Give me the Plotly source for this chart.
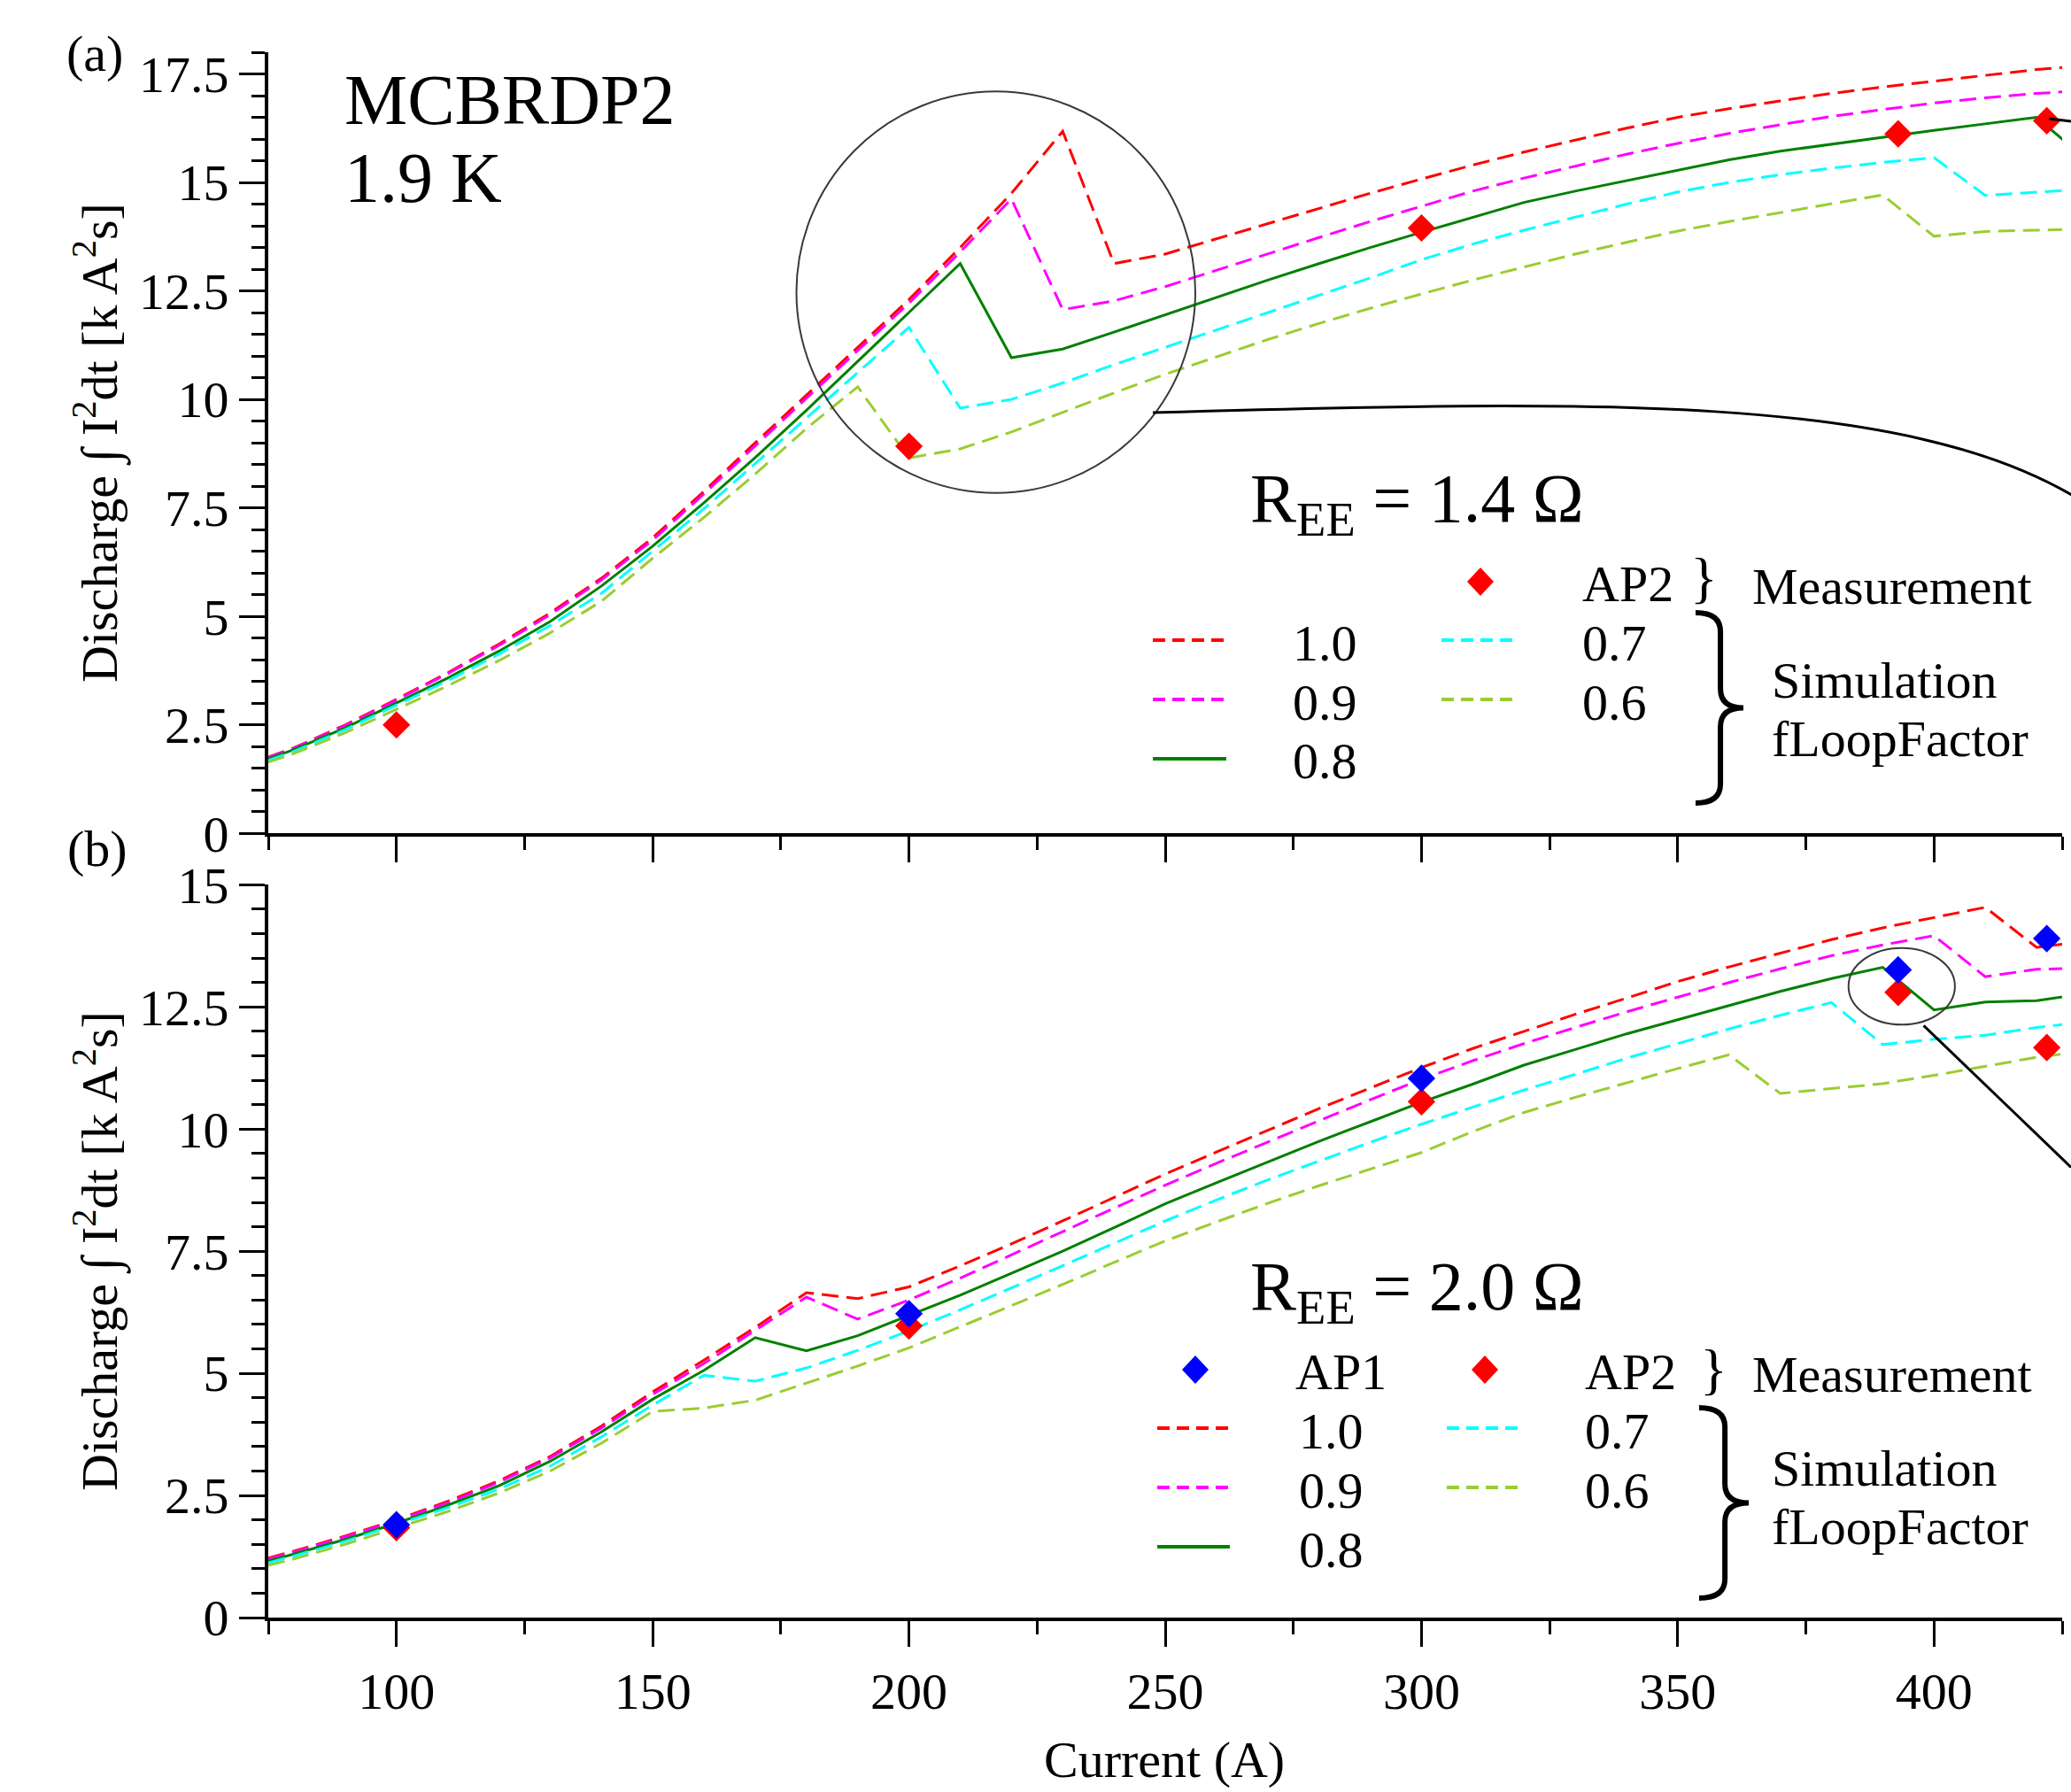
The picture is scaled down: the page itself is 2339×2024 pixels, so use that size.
import plotly.graph_objects as go

# ---------------- data ----------------
current = [75, 80, 90, 100, 110, 120, 130, 140, 150, 160, 170, 180, 190, 200, 210, 220, 230, 240,
           250, 260, 270, 280, 290, 300, 310, 320, 330, 340, 350, 360, 370, 380, 390, 400, 410, 420, 430]

# (a) R_EE = 1.4 Ohm, simulation for fLoopFactor
a_f10 = [1.76, 1.97, 2.50, 3.09, 3.70, 4.36, 5.08, 5.88, 6.81, 7.88, 9.00, 10.10, 11.20, 12.30, 13.50, 14.75, 16.18, 13.13,
         13.35, 13.70, 14.05, 14.40, 14.75, 15.08, 15.40, 15.70, 15.98, 16.25, 16.50, 16.70, 16.88, 17.05, 17.20, 17.33, 17.47, 17.60, 17.70]
a_f09 = [1.75, 1.96, 2.48, 3.07, 3.68, 4.33, 5.04, 5.84, 6.76, 7.82, 8.93, 10.03, 11.12, 12.22, 13.40, 14.62, 12.07, 12.27,
         12.60, 12.98, 13.36, 13.73, 14.10, 14.45, 14.80, 15.10, 15.38, 15.65, 15.90, 16.13, 16.33, 16.52, 16.68, 16.83, 16.95, 17.05, 17.12]
a_f08 = [1.72, 1.93, 2.43, 3.00, 3.58, 4.20, 4.88, 5.70, 6.62, 7.62, 8.66, 9.75, 10.87, 12.00, 13.13, 10.96, 11.16, 11.55,
         11.95, 12.35, 12.75, 13.13, 13.50, 13.85, 14.20, 14.54, 14.80, 15.04, 15.28, 15.52, 15.72, 15.88, 16.05, 16.20, 16.35, 16.50, 15.50]
a_f07 = [1.68, 1.89, 2.39, 2.95, 3.52, 4.13, 4.79, 5.53, 6.50, 7.48, 8.52, 9.58, 10.62, 11.66, 9.80, 10.00, 10.38, 10.80,
         11.20, 11.60, 12.00, 12.40, 12.80, 13.22, 13.58, 13.90, 14.20, 14.50, 14.78, 15.00, 15.18, 15.33, 15.46, 15.57, 14.70, 14.78, 14.85]
a_f06 = [1.64, 1.84, 2.32, 2.86, 3.40, 3.98, 4.62, 5.35, 6.34, 7.28, 8.28, 9.33, 10.29, 8.65, 8.86, 9.25, 9.70, 10.15,
         10.58, 10.98, 11.38, 11.75, 12.10, 12.43, 12.75, 13.05, 13.35, 13.62, 13.88, 14.10, 14.30, 14.50, 14.71, 13.76, 13.87, 13.90, 13.93]

# (b) R_EE = 2.0 Ohm
b_f10 = [1.22, 1.36, 1.67, 2.00, 2.38, 2.80, 3.30, 3.92, 4.62, 5.27, 5.94, 6.65, 6.53, 6.77, 7.20, 7.65, 8.12, 8.60,
         9.08, 9.53, 9.98, 10.42, 10.84, 11.26, 11.65, 12.00, 12.35, 12.68, 13.02, 13.32, 13.60, 13.88, 14.12, 14.33, 14.54, 13.72, 13.85]
b_f09 = [1.20, 1.34, 1.65, 1.98, 2.35, 2.77, 3.27, 3.88, 4.57, 5.20, 5.88, 6.56, 6.11, 6.50, 6.95, 7.42, 7.90, 8.38,
         8.85, 9.30, 9.74, 10.17, 10.60, 11.02, 11.40, 11.75, 12.08, 12.40, 12.70, 13.00, 13.28, 13.55, 13.77, 13.96, 13.12, 13.27, 13.30]
b_f08 = [1.16, 1.30, 1.60, 1.93, 2.30, 2.70, 3.20, 3.80, 4.47, 5.06, 5.73, 5.46, 5.77, 6.18, 6.60, 7.05, 7.50, 7.98,
         8.47, 8.90, 9.33, 9.75, 10.15, 10.55, 10.92, 11.31, 11.63, 11.95, 12.24, 12.53, 12.82, 13.08, 13.31, 12.44, 12.60, 12.63, 12.78]
b_f07 = [1.12, 1.26, 1.56, 1.90, 2.25, 2.63, 3.10, 3.70, 4.35, 4.96, 4.84, 5.11, 5.47, 5.87, 6.30, 6.75, 7.20, 7.66,
         8.12, 8.55, 8.96, 9.35, 9.73, 10.10, 10.45, 10.80, 11.12, 11.45, 11.75, 12.05, 12.33, 12.59, 11.73, 11.84, 11.92, 12.08, 12.20]
b_f06 = [1.07, 1.20, 1.50, 1.83, 2.17, 2.55, 3.00, 3.57, 4.22, 4.29, 4.45, 4.80, 5.15, 5.52, 5.95, 6.38, 6.82, 7.27,
         7.71, 8.10, 8.48, 8.84, 9.18, 9.52, 9.95, 10.34, 10.65, 10.95, 11.24, 11.52, 10.73, 10.83, 10.93, 11.10, 11.28, 11.47, 11.60]

# measurements
meas_current = [100, 200, 300, 393, 422]
a_ap2 = [2.50, 8.92, 13.95, 16.12, 16.42]
b_ap1 = [1.90, 6.22, 11.04, 13.26, 13.90]
b_ap2 = [1.84, 5.97, 10.56, 12.80, 11.67]

x_ticks = [100, 150, 200, 250, 300, 350, 400]
ya_ticks = [0, 2.5, 5, 7.5, 10, 12.5, 15, 17.5]
yb_ticks = [0, 2.5, 5, 7.5, 10, 12.5, 15]
loop_labels = ["1.0", "0.9", "0.8", "0.7", "0.6"]

# ---------------- geometry / styles ----------------
W, H = 2339, 2024
ML, MR, MT, MB = 303, 10, 59, 197
PW = W - ML - MR
PH = H - MT - MB
FONT = "Liberation Serif"

def P(X, Y):
    return (X - ML) / PW, (MT + PH - Y) / PH

def fmt(v):
    return ("%g" % v)

styles = {
    "1.0": dict(color="#FF0000", dash="19px,9px"),
    "0.9": dict(color="#FF00FF", dash="19px,9px"),
    "0.8": dict(color="#008000", dash="solid"),
    "0.7": dict(color="#00FFFF", dash="19px,9px"),
    "0.6": dict(color="#9ACD32", dash="19px,9px"),
}

fig = go.Figure()

sets = [
    ("x2", "y2", [a_f10, a_f09, a_f08, a_f07, a_f06]),
    ("x", "y", [b_f10, b_f09, b_f08, b_f07, b_f06]),
]
for xa, ya, series in sets:
    for lab, ys in zip(loop_labels, series):
        st = styles[lab]
        fig.add_trace(go.Scatter(x=current, y=ys, mode="lines", xaxis=xa, yaxis=ya,
                                 line=dict(color=st["color"], width=3, dash=st["dash"]),
                                 showlegend=False, name=lab))

mk = dict(symbol="diamond", size=24, line=dict(width=0))
fig.add_trace(go.Scatter(x=meas_current, y=a_ap2, mode="markers", xaxis="x2", yaxis="y2",
                         marker=dict(color="#FF0000", **mk), showlegend=False, name="AP2"))
fig.add_trace(go.Scatter(x=meas_current, y=b_ap2, mode="markers", xaxis="x", yaxis="y",
                         marker=dict(color="#FF0000", **mk), showlegend=False, name="AP2"))
fig.add_trace(go.Scatter(x=meas_current, y=b_ap1, mode="markers", xaxis="x", yaxis="y",
                         marker=dict(color="#0000FF", **mk), showlegend=False, name="AP1"))

tickfont = dict(family=FONT, size=58, color="black")
axis_common = dict(showline=True, linecolor="black", linewidth=4, ticks="outside", ticklen=29,
                   tickwidth=3, tickcolor="black", showgrid=False, zeroline=False, tickfont=tickfont,
                   mirror=False)

top_dom = [P(0, 941.3)[1], 1.0]
bot_dom = [0.0, P(0, 999.4)[1]]

minor_x = dict(tickmode="linear", tick0=75, dtick=25, ticks="outside", ticklen=15,
               tickwidth=3, tickcolor="black", showgrid=False)
minor_y = dict(tickmode="linear", tick0=0, dtick=0.5, ticks="outside", ticklen=15,
               tickwidth=3, tickcolor="black", showgrid=False)

fig.update_layout(
    width=W, height=H,
    margin=dict(l=ML, r=MR, t=MT, b=MB, pad=0),
    paper_bgcolor="white", plot_bgcolor="white",
    showlegend=False,
    xaxis=dict(domain=[0, 1], anchor="y", range=[75, 425], tickmode="array", tickvals=x_ticks,
               ticktext=[fmt(v) for v in x_ticks], minor=minor_x, **axis_common),
    yaxis=dict(domain=bot_dom, anchor="x", range=[0, 15], tickmode="array", tickvals=yb_ticks,
               ticktext=[fmt(v) for v in yb_ticks], minor=minor_y, **axis_common),
    xaxis2=dict(domain=[0, 1], anchor="y2", range=[75, 425], tickmode="array", tickvals=x_ticks,
                showticklabels=False, minor=minor_x, **axis_common),
    yaxis2=dict(domain=top_dom, anchor="x2", range=[0, 18], tickmode="array", tickvals=ya_ticks,
                ticktext=[fmt(v) for v in ya_ticks], minor=minor_y, **axis_common),
)

annotations = []
shapes = []

def text(X, Y, s, size=58, anchor="left", angle=0):
    x, y = P(X, Y)
    annotations.append(dict(x=x, y=y, xref="paper", yref="paper", text=s, showarrow=False,
                            xanchor=anchor, yanchor="middle", textangle=angle,
                            font=dict(family=FONT, size=size, color="black")))

def seg(X0, Y0, X1, Y1, color, width=3, dash="solid"):
    x0, y0 = P(X0, Y0)
    x1, y1 = P(X1, Y1)
    shapes.append(dict(type="line", xref="paper", yref="paper", x0=x0, y0=y0, x1=x1, y1=y1,
                       line=dict(color=color, width=width, dash=dash)))

def diamond(cx, cy, color, hw=15, hh=16):
    pts = [(cx, cy - hh), (cx + hw, cy), (cx, cy + hh), (cx - hw, cy)]
    pp = [P(a, b) for a, b in pts]
    path = "M %f,%f L %f,%f L %f,%f L %f,%f Z" % (pp[0] + pp[1] + pp[2] + pp[3])
    shapes.append(dict(type="path", xref="paper", yref="paper", path=path,
                       fillcolor=color, line=dict(color=color, width=0)))

def brace(xl, yt, yb, w):
    xs = xl + 0.52 * w
    xt = xl + w
    ym = (yt + yb) / 2
    c = 0.10 * (yb - yt)
    pts = [
        ("M", [(xl, yt)]),
        ("Q", [(xs, yt), (xs, yt + c)]),
        ("L", [(xs, ym - c)]),
        ("Q", [(xs, ym), (xt, ym)]),
        ("Q", [(xs, ym), (xs, ym + c)]),
        ("L", [(xs, yb - c)]),
        ("Q", [(xs, yb), (xl, yb)]),
    ]
    parts = []
    for cmd, ps in pts:
        parts.append(cmd + " " + " ".join("%f,%f" % P(a, b) for a, b in ps))
    shapes.append(dict(type="path", xref="paper", yref="paper", path=" ".join(parts),
                       line=dict(color="black", width=6)))

def ellipse(X0, Y0, X1, Y1, color="#3a3a3a", width=2):
    x0, y0 = P(X0, Y0)
    x1, y1 = P(X1, Y1)
    shapes.append(dict(type="circle", xref="paper", yref="paper", x0=x0, y0=y1, x1=x1, y1=y0,
                       line=dict(color=color, width=width)))

def cubic(p0, p1, p2, p3, color="black", width=3):
    pp = [P(*p) for p in (p0, p1, p2, p3)]
    path = "M %f,%f C %f,%f %f,%f %f,%f" % (pp[0] + pp[1] + pp[2] + pp[3])
    shapes.append(dict(type="path", xref="paper", yref="paper", path=path,
                       line=dict(color=color, width=width)))

# panel labels and titles
text(107, 60, "(a)", 58, "center")
text(110, 958, "(b)", 58, "center")
text(387, 113, "MCBRDP2", 80)
text(387, 201, "1.9 K", 80)
ytitle = "Discharge ∫ I<sup>2</sup>dt [k A<sup>2</sup>s]"
text(110, 500, ytitle, 58, "center", -90)
text(110, 1413, ytitle, 58, "center", -90)
text(1315, 1988, "Current (A)", 58, "center")

# zoom circles and connectors
ellipse(899.5, 103.3, 1350, 556.8)
cubic((1302, 466), (1800, 452), (2150, 445), (2345, 562))
seg(2314, 134, 2339, 137, "black", 3)
ellipse(2087.7, 1070.7, 2207.9, 1157.3)
seg(2172.6, 1158.3, 2339, 1318.3, "black", 3)

# ---- legend blocks ----
def legend_block(y_title, ree, meas_rows, y_meas, sim_y, brace_box, small_brace, sim_text_y, cols):
    text(1410, y_title, "R<sub>EE</sub> = " + ree, 78)
    for (cx, color, lab, tx) in meas_rows:
        diamond(cx, y_meas, color)
        text(tx, y_meas + 2, lab, 58)
    text(small_brace[0], small_brace[1], "}", 64, "center")
    text(1977, y_meas + 5, "Measurement", 58)
    (lx0, lx1, tx_left), (rx0, rx1, tx_right) = cols
    for i, lab in enumerate(["1.0", "0.9", "0.8"]):
        st = styles[lab]
        yy = sim_y[i]
        seg(lx0, yy, lx1, yy, st["color"], 4, "14px,8px" if st["dash"] != "solid" else "solid")
        text(tx_left, yy + 3, lab, 58)
    for i, lab in enumerate(["0.7", "0.6"]):
        st = styles[lab]
        yy = sim_y[i]
        seg(rx0, yy, rx1, yy, st["color"], 4, "14px,8px")
        text(tx_right, yy + 3, lab, 58)
    brace(*brace_box)
    text(1999, sim_text_y[0], "Simulation", 58)
    text(1999, sim_text_y[1], "fLoopFactor", 58)

legend_block(568, "1.4 Ω",
             [(1672, "#FF0000", "AP2", 1785)], 657,
             [723, 790, 857], (1915, 692, 907, 54), (1924, 652), (768, 834),
             ((1302, 1385, 1458), (1628, 1712, 1785)))

legend_block(1458, "2.0 Ω",
             [(1350, "#0000FF", "AP1", 1461), (1677, "#FF0000", "AP2", 1788)], 1547,
             [1613, 1680, 1747], (1919, 1590, 1805, 56), (1935, 1546), (1658, 1724),
             ((1307, 1389, 1465), (1634, 1716, 1788)))

fig.update_layout(annotations=annotations, shapes=shapes)

fig.write_html("out.html", config={"displayModeBar": False},
               post_script="document.body.style.margin='0px';")
